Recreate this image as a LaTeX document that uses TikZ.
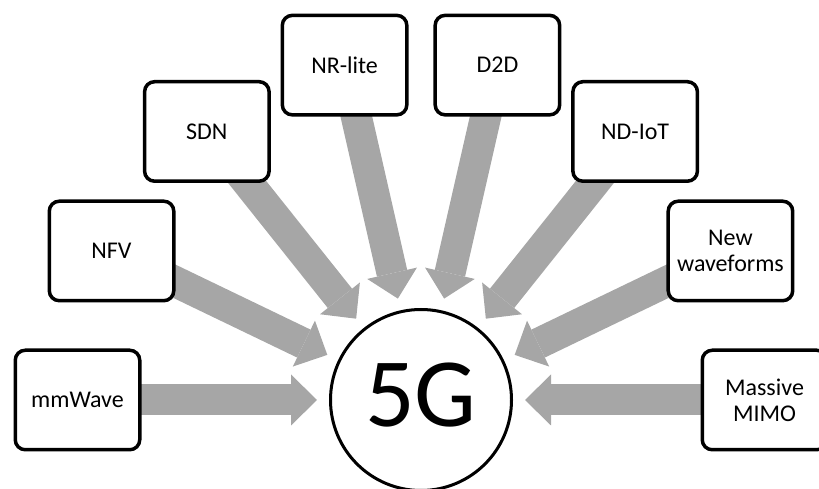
\documentclass[tikz,border=0pt]{standalone}
\usepackage{fontspec}
\setmainfont{Carlito}
\usetikzlibrary{arrows.meta,backgrounds}
\definecolor{arrowgray}{RGB}{166,166,166}
\begin{document}
\begin{tikzpicture}[x=1pt,y=1pt,
  box/.style={draw=black, line width=3.5pt, rounded corners=10pt, fill=white,
    minimum width=124.5pt, minimum height=99.5pt, align=center,
    font=\fontsize{24}{26}\selectfont, inner sep=2pt},
  hub/.style={circle, draw=black, line width=3pt, fill=white, minimum size=181pt,
    inner sep=0pt, text depth=10pt, font=\fontsize{98}{100}\selectfont},
  bigarrow/.style={draw=arrowgray, line width=31pt,
    -{Triangle[length=26pt,width=51pt,line width=0pt]}}]
\useasboundingbox (0,0) rectangle (819,489);
\coordinate (c) at (421,89);
\path (c) ++(180:343.5) node[box] (mm) {mmWave};
\path (c) ++(154.2857:343.5) node[box] (nfv) {NFV};
\path (c) ++(128.5714:343.5) node[box] (sdn) {SDN};
\path (c) ++(102.8571:343.5) node[box] (nr) {NR-lite};
\path (c) ++(77.1429:343.5) node[box] (d2d) {D2D};
\path (c) ++(51.4286:343.5) node[box] (iot) {ND-IoT};
\path (c) ++(25.7143:343.5) node[box] (nw) {New\\waveforms};
\path (c) ++(0:343.5) node[box] (mimo) {Massive\\MIMO};
\node[hub] (g) at (c) {5G};
\path (c) ++(180:104) coordinate (t1);
\path (c) ++(154.2857:104) coordinate (t2);
\path (c) ++(128.5714:104) coordinate (t3);
\path (c) ++(102.8571:104) coordinate (t4);
\path (c) ++(77.1429:104) coordinate (t5);
\path (c) ++(51.4286:104) coordinate (t6);
\path (c) ++(25.7143:104) coordinate (t7);
\path (c) ++(0:104) coordinate (t8);
\begin{scope}[on background layer]
\draw[bigarrow] (mm.center) -- (t1);
\draw[bigarrow] (nfv.center) -- (t2);
\draw[bigarrow] (sdn.center) -- (t3);
\draw[bigarrow] (nr.center) -- (t4);
\draw[bigarrow] (d2d.center) -- (t5);
\draw[bigarrow] (iot.center) -- (t6);
\draw[bigarrow] (nw.center) -- (t7);
\draw[bigarrow] (mimo.center) -- (t8);
\end{scope}
\end{tikzpicture}
\end{document}
